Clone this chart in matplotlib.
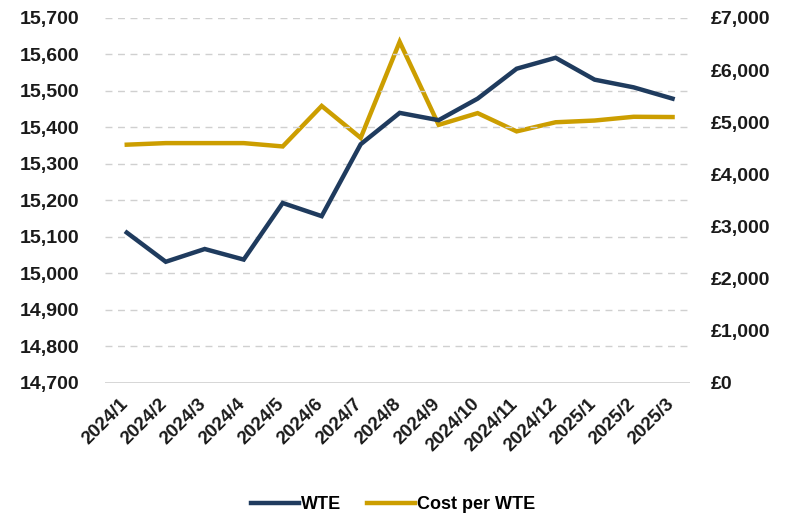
import matplotlib.pyplot as plt
from matplotlib.ticker import FuncFormatter
from matplotlib.transforms import ScaledTranslation

# -------- DATA --------
months = ["2024/1", "2024/2", "2024/3", "2024/4", "2024/5", "2024/6", "2024/7", "2024/8",
          "2024/9", "2024/10", "2024/11", "2024/12", "2025/1", "2025/2", "2025/3"]
wte = [15112, 15032, 15067, 15038, 15193, 15157, 15354, 15440, 15420, 15479, 15561, 15591,
       15531, 15510, 15479]
cost_per_wte = [4570, 4600, 4600, 4600, 4536, 5313, 4700, 6543, 4950, 5175, 4825, 5000,
                5033, 5105, 5100]

# -------- STYLE --------
navy = "#1F3B5E"
gold = "#CC9E00"
plt.rcParams["font.family"] = ["Liberation Sans", "DejaVu Sans"]
plt.rcParams["font.weight"] = "bold"

fig = plt.figure(figsize=(7.86, 5.14), dpi=100)
ax = fig.add_axes([0.134, 0.255, 0.744, 0.71])
ax2 = ax.twinx()

x = range(len(months))
l1, = ax.plot(x, wte, color=navy, lw=3.2, solid_joinstyle="miter", label="WTE")
l2, = ax2.plot(x, cost_per_wte, color=gold, lw=3.2, solid_joinstyle="miter", label="Cost per WTE")

ax.set_ylim(14700, 15700)
ax.set_yticks(range(14700, 15701, 100))
ax.yaxis.set_major_formatter(FuncFormatter(lambda v, p: f"{v:,.0f}"))
ax2.set_ylim(0, 7000)
ax2.set_yticks(range(0, 7001, 1000))
ax2.yaxis.set_major_formatter(FuncFormatter(lambda v, p: f"£{v:,.0f}"))
ax.set_xlim(-0.55, 14.45)

# dashed gridlines, solid base line
for gv in range(14800, 15701, 100):
    ax.axhline(gv, color="#D0D0D0", lw=1, ls=(0, (5, 4)), zorder=0)
ax.axhline(14700, color="#D0D0D0", lw=1.2, zorder=0)

for a in (ax, ax2):
    for s in a.spines.values():
        s.set_visible(False)
    a.tick_params(length=0, labelsize=14, colors="#1a1a1a")
ax.tick_params(axis="y", pad=19)
ax2.tick_params(axis="y", pad=15)

ax.set_xticks(list(x))
ax.set_xticklabels(months, rotation=45, ha="right", rotation_mode="anchor", fontsize=13.5)
ax.tick_params(axis="x", pad=9)
for t in ax.get_xticklabels():
    t.set_transform(t.get_transform() + ScaledTranslation(-0.07, 0, fig.dpi_scale_trans))

ax.set_zorder(ax2.get_zorder() + 1)
ax.patch.set_visible(False)

fig.legend([l1, l2], ["WTE", "Cost per WTE"], loc="center", bbox_to_anchor=(0.5, 0.018),
           ncol=2, frameon=False, handlelength=2.7, handletextpad=0.1,
           columnspacing=1.4, prop={"weight": "bold", "size": 13})

fig.savefig("out.png", dpi=100)
